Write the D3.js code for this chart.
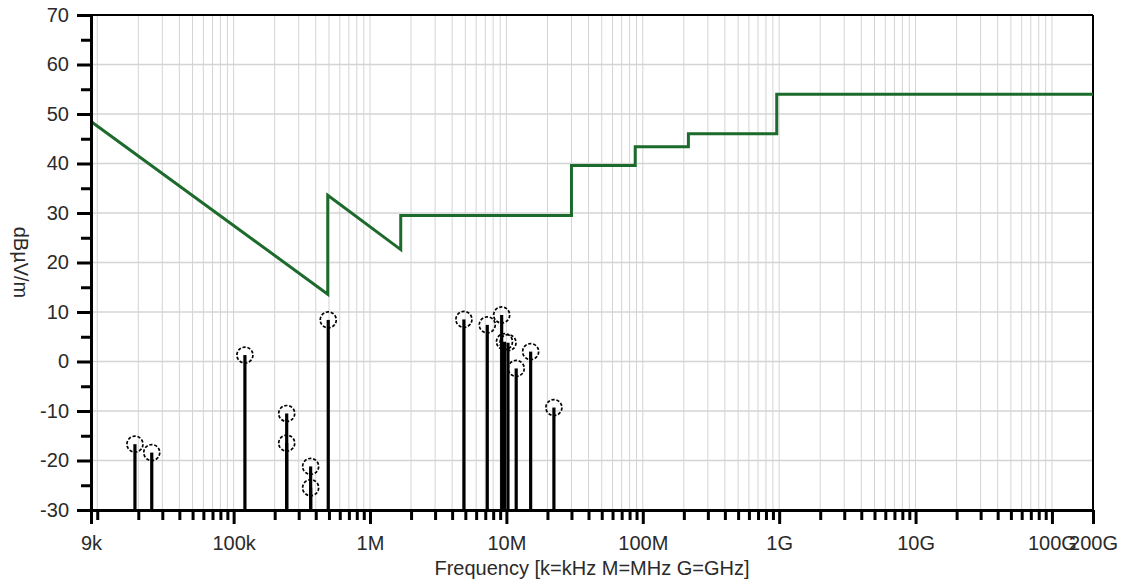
<!DOCTYPE html>
<html>
<head>
<meta charset="utf-8">
<script src="https://cdn.jsdelivr.net/npm/d3@7"></script>
<style>
  html, body { margin: 0; padding: 0; background: #fff; }
  svg { display: block; font-family: "Liberation Sans", Arial, sans-serif; }
</style>
</head>
<body>
<svg id="chart" width="1121" height="585"></svg>
<script>
// ---- Data ----
const limitFreq  = [9e3, 490e3, 490e3, 1.68e6, 1.68e6, 30e6, 30e6, 88e6, 88e6, 216e6, 216e6, 960e6, 960e6, 200e9];
const limitLevel = [48.5, 13.6, 33.6, 22.6, 29.5, 29.5, 39.6, 39.6, 43.4, 43.4, 46.0, 46.0, 54.0, 54.0];

const peakFreq  = [18.9e3, 25.1e3, 121e3, 245e3, 245e3, 367e3, 367e3, 494e3, 4.88e6, 7.24e6, 9.23e6, 9.68e6, 10.27e6, 11.8e6, 15.06e6, 22.3e6];
const peakLevel = [-16.7, -18.4, 1.3, -10.5, -16.5, -21.2, -25.5, 8.4, 8.5, 7.4, 9.4, 4.0, 3.8, -1.4, 2.0, -9.3];

const xTickValues = [9e3, 1e5, 1e6, 1e7, 1e8, 1e9, 1e10, 1e11, 2e11];
const xTickLabels = ["9k", "100k", "1M", "10M", "100M", "1G", "10G", "100G", "200G"];
const yTickValues = [-30, -20, -10, 0, 10, 20, 30, 40, 50, 60, 70];
const yMinorValues = [-25, -15, -5, 5, 15, 25, 35, 45, 55, 65];

const xTitle = "Frequency [k=kHz M=MHz G=GHz]";
const yTitle = "dBµV/m";

// ---- Layout ----
const L = 91, R = 1093, T = 15, B = 510;
const svg = d3.select("#chart");

const x = d3.scaleLog().domain([9e3, 2e11]).range([L, R]);
const y = d3.scaleLinear().domain([-30, 70]).range([B, T]);

// minor values: n * 10^k inside domain
const minorX = [];
for (let e = 3; e <= 11; e++) {
  for (let n = 1; n <= 9; n++) {
    const v = n * Math.pow(10, e);
    if (v > 9e3 && v < 2e11 && !xTickValues.includes(v)) minorX.push(v);
  }
}

// ---- Grid ----
const grid = svg.append("g");
grid.selectAll("line.vg").data(minorX.concat([1e5,1e6,1e7,1e8,1e9,1e10,1e11])).join("line")
  .attr("x1", d => x(d)).attr("x2", d => x(d))
  .attr("y1", T).attr("y2", B)
  .attr("stroke", "#d4d4d4").attr("stroke-width", 1);
grid.selectAll("line.hg").data(yTickValues.slice(1, -1)).join("line")
  .attr("x1", L).attr("x2", R)
  .attr("y1", d => y(d)).attr("y2", d => y(d))
  .attr("stroke", "#d4d4d4").attr("stroke-width", 1.5);

// ---- Frame (top, right) ----
svg.append("line").attr("x1", L).attr("x2", R).attr("y1", T).attr("y2", T)
  .attr("stroke", "#000").attr("stroke-width", 2);
svg.append("line").attr("x1", R).attr("x2", R).attr("y1", T).attr("y2", B)
  .attr("stroke", "#000").attr("stroke-width", 2);

// ---- Limit line ----
const limitData = limitFreq.map((f, i) => [f, limitLevel[i]]);
svg.append("path")
  .datum(limitData)
  .attr("fill", "none")
  .attr("stroke", "#1d6b2c")
  .attr("stroke-width", 3)
  .attr("stroke-linejoin", "miter")
  .attr("d", d3.line().x(d => x(d[0])).y(d => y(d[1])));

// ---- Peaks (stems + circles) ----
const peaks = peakFreq.map((f, i) => ({ f, v: peakLevel[i] }));
svg.append("g").selectAll("line").data(peaks).join("line")
  .attr("x1", d => x(d.f)).attr("x2", d => x(d.f))
  .attr("y1", y(-30)).attr("y2", d => y(d.v))
  .attr("stroke", "#000").attr("stroke-width", 3.2);
svg.append("g").selectAll("circle").data(peaks).join("circle")
  .attr("cx", d => x(d.f)).attr("cy", d => y(d.v))
  .attr("r", 8)
  .attr("fill", "none")
  .attr("stroke", "#000").attr("stroke-width", 1.7)
  .attr("stroke-dasharray", "3.2,1.8");

// ---- Axes ----
function styleAxis(g) {
  g.select(".domain").attr("stroke", "#000").attr("stroke-width", 3);
  g.selectAll(".tick line").attr("stroke", "#000").attr("stroke-width", 3);
  g.selectAll(".tick text").attr("fill", "#2a2a2a").attr("font-size", 20)
    .attr("font-family", "'Liberation Sans', Arial, sans-serif");
}

// x minor ticks
const xMinor = svg.append("g").attr("transform", `translate(0,${B})`)
  .call(d3.axisBottom(x).tickValues(minorX).tickFormat("").tickSizeInner(10).tickSizeOuter(0));
xMinor.select(".domain").remove();
xMinor.selectAll(".tick line").attr("stroke", "#000").attr("stroke-width", 3);

// x major ticks
const xAxis = svg.append("g").attr("transform", `translate(0,${B})`)
  .call(d3.axisBottom(x).tickValues(xTickValues)
    .tickFormat((d, i) => xTickLabels[i]).tickSizeInner(14).tickSizeOuter(0));
styleAxis(xAxis);
xAxis.selectAll(".tick text").attr("y", 26);

// y minor ticks
const yMinor = svg.append("g").attr("transform", `translate(${L},0)`)
  .call(d3.axisLeft(y).tickValues(yMinorValues).tickFormat("").tickSizeInner(10).tickSizeOuter(0));
yMinor.select(".domain").remove();
yMinor.selectAll(".tick line").attr("stroke", "#000").attr("stroke-width", 3);

// y major ticks (plain hyphen minus as in the reference)
const yAxis = svg.append("g").attr("transform", `translate(${L},0)`)
  .call(d3.axisLeft(y).tickValues(yTickValues).tickFormat(d => String(d)).tickSizeInner(14).tickSizeOuter(0));
styleAxis(yAxis);
yAxis.selectAll(".tick text").attr("x", -22);

// ---- Titles ----
svg.append("text")
  .attr("x", (L + R) / 2).attr("y", 575)
  .attr("text-anchor", "middle")
  .attr("font-size", 20).attr("fill", "#2a2a2a")
  .text(xTitle);

svg.append("text")
  .attr("transform", `translate(14,${(T + B) / 2}) rotate(90)`)
  .attr("text-anchor", "middle")
  .attr("font-size", 20).attr("fill", "#2a2a2a")
  .text(yTitle);
</script>
</body>
</html>
